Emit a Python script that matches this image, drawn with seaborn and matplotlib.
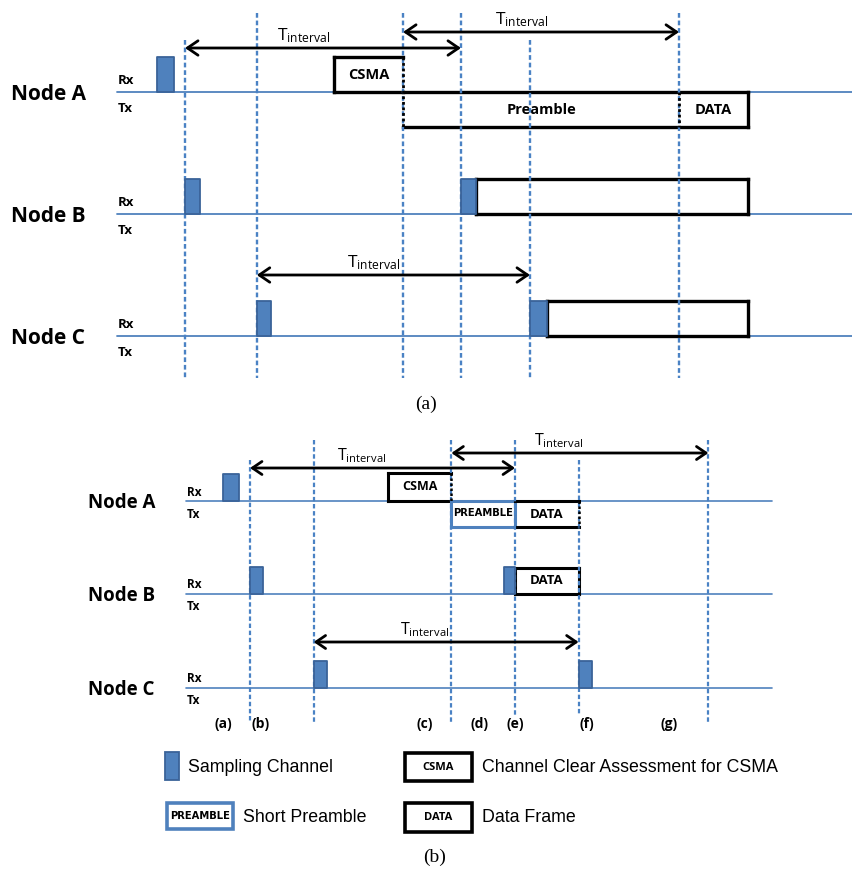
import numpy as np
import pandas as pd
import matplotlib
matplotlib.use("Agg")
import matplotlib.pyplot as plt
from matplotlib.patches import Rectangle
import seaborn as sns

sns.set_theme(style="white")
plt.rcParams["font.family"] = ["Open Sans", "DejaVu Sans"]
plt.rcParams["text.color"] = "black"
plt.rcParams["mathtext.fontset"] = "custom"
plt.rcParams["mathtext.rm"] = "Open Sans"
plt.rcParams["mathtext.it"] = "Open Sans"
plt.rcParams["mathtext.bf"] = "Open Sans:bold"

# ---------------------------------------------------------------- data
# times are in units where one wake-up interval is roughly 100
nodes = ["Node A", "Node B", "Node C"]

# (a) long preamble
a_marks = [0, 26, 79, 100, 125, 179]
a_samples = {"Node A": [(-10, -4)],
             "Node B": [(0, 5.5), (100, 105.5)],
             "Node C": [(26, 31), (125, 131)]}
a_csma = (54, 79)
a_preamble = (79, 179)
a_data = (179, 204)
a_rx_busy = {"Node B": (105.5, 204), "Node C": (131, 204)}
a_intervals = [(0, 100), (79, 179), (26, 125)]
a_line_span = (-24.6, 245)

# (b) short preamble
b_marks = [0, 24, 76, 100, 124, 173]
b_samples = {"Node A": [(-10, -4)],
             "Node B": [(0, 5), (96, 100)],
             "Node C": [(24, 29), (124, 129)]}
b_csma = (52, 76)
b_preamble = (76, 100)
b_data_a = (100, 124)
b_data_b = (100, 124)
b_intervals = [(0, 100), (76, 173), (24, 124)]
b_line_span = (-24, 197)
b_event_labels = ["(a)", "(b)", "(c)", "(d)", "(e)", "(f)", "(g)"]
b_event_pos = [-10, 4, 66, 86.5, 100, 127, 158]

legend_labels = ["Sampling Channel", "Channel Clear Assessment for CSMA",
                 "Short Preamble", "Data Frame"]

# ---------------------------------------------------------------- style
W, H = 853, 869
BLUE = "#4f81bd"
EDGE = "#3a6399"
DASH = "#4a82c4"

fig = plt.figure(figsize=(W / 100, H / 100), dpi=100)
fig.patch.set_facecolor("white")

A_TOP = 415
ax_txt = fig.add_axes([0, 0, 1, 1])
ax_a = fig.add_axes([0, (H - A_TOP) / H, 1, A_TOP / H])
ax_b = fig.add_axes([0, 0, 1, (H - A_TOP) / H])
for ax in (ax_txt, ax_a, ax_b):
    ax.set_axis_off()
    ax.patch.set_alpha(0)

# pixel <-> time mapping for each panel
a_origin, a_scale = 185, 2.76
b_origin, b_scale = 250, 2.65


def sides(ax, t0, t1, y0, y1, which, color="black", lw=2.4, ls="-", z=3):
    segs = {"l": ([t0, t0], [y0, y1]), "r": ([t1, t1], [y0, y1]),
            "t": ([t0, t1], [y0, y0]), "b": ([t0, t1], [y1, y1])}
    for k in which:
        xs, ys = segs[k]
        ax.plot(xs, ys, color=color, lw=lw, ls=ls,
                solid_capstyle="projecting", zorder=z)


def baselines(ax, rows, span, lw):
    recs = []
    for node, y in rows.items():
        recs.append(dict(node=node, t=span[0], y=y))
        recs.append(dict(node=node, t=span[1], y=y))
    sns.lineplot(data=pd.DataFrame(recs), x="t", y="y", units="node",
                 estimator=None, sort=False, color=BLUE, lw=lw,
                 legend=False, ax=ax, zorder=1)


def pulses(ax, samples, rows, height):
    for node, spans in samples.items():
        for t0, t1 in spans:
            ax.add_patch(Rectangle((t0, rows[node] - height), t1 - t0, height,
                                   fc=BLUE, ec=EDGE, lw=1.3, zorder=6,
                                   joinstyle="round"))


def interval(ax, t0, t1, y, dx, fs, ms):
    ax.annotate("", xy=(t1, y), xytext=(t0, y),
                arrowprops=dict(arrowstyle="<->,head_length=0.38,head_width=0.26",
                                lw=2.0, color="black", shrinkA=0, shrinkB=0,
                                mutation_scale=ms), zorder=7)
    ax.text((t0 + t1) / 2 + dx, y - 3, r"$\mathrm{T}_{\mathrm{interval}}$",
            ha="center", va="bottom", fontsize=fs, zorder=7)


# ---------------------------------------------------------------- panel (a)
a_rows = {"Node A": 92, "Node B": 214, "Node C": 336}
baselines(ax_a, a_rows, a_line_span, 1.3)

a_mark_top = [40, 13, 13, 13, 40, 13]
ax_a.vlines(a_marks, a_mark_top, 378, colors=DASH, lw=1.7,
            linestyles=[(0, (2.0, 1.2))], zorder=4)

yA = a_rows["Node A"]
sides(ax_a, a_csma[0], a_csma[1], yA - 35, yA, "ltb")
sides(ax_a, a_preamble[0], a_data[1], yA, yA + 35, "tb")
sides(ax_a, a_data[0], a_data[1], yA, yA + 35, "r")
ax_a.plot([a_csma[1]] * 2, [yA - 35, yA + 35], color="black", lw=2.0,
          ls=(0, (1, 1)), zorder=5)
ax_a.plot([a_data[0]] * 2, [yA, yA + 35], color="black", lw=2.0,
          ls=(0, (1, 1)), zorder=5)
ax_a.text(sum(a_csma) / 2, yA - 17, "CSMA", ha="center", va="center",
          fontsize=10.5, fontweight="bold")
ax_a.text(sum(a_preamble) / 2, yA + 18, "Preamble", ha="center", va="center",
          fontsize=10.5, fontweight="bold")
ax_a.text(sum(a_data) / 2, yA + 18, "DATA", ha="center", va="center",
          fontsize=10.5, fontweight="bold")

for node, (t0, t1) in a_rx_busy.items():
    y = a_rows[node]
    sides(ax_a, t0, t1, y - 35, y, "ltrb")

pulses(ax_a, a_samples, a_rows, 35)

a_arrow_y = [48, 32, 275]
for (t0, t1), y in zip(a_intervals, a_arrow_y):
    interval(ax_a, t0, t1, y, -7, 12.5, 20)

ax_a.set_xlim(-a_origin / a_scale, (W - a_origin) / a_scale)
ax_a.set_ylim(A_TOP, 0)

# ---------------------------------------------------------------- panel (b)
b_rows = {"Node A": 501, "Node B": 594, "Node C": 688}
baselines(ax_b, b_rows, b_line_span, 1.2)

b_mark_top = [460, 440, 440, 440, 460, 440]
b_mark_bot = [722, 722, 722, 716, 716, 722]
ax_b.vlines(b_marks, b_mark_top, b_mark_bot, colors=DASH, lw=1.6,
            linestyles=[(0, (2.0, 1.2))], zorder=4)

yA = b_rows["Node A"]
sides(ax_b, b_csma[0], b_csma[1], yA - 28, yA, "ltb", lw=2.2)
ax_b.plot([b_csma[1]] * 2, [yA - 28, yA], color="black", lw=1.8,
          ls=(0, (1, 1)), zorder=5)
sides(ax_b, b_preamble[0], b_preamble[1], yA, yA + 26, "ltrb",
      color=BLUE, lw=2.2)
sides(ax_b, b_data_a[0], b_data_a[1], yA, yA + 26, "tb", lw=2.2)
ax_b.plot([b_data_a[1]] * 2, [yA, yA + 26], color="black", lw=1.8,
          ls=(0, (1, 1)), zorder=5)
ax_b.text(sum(b_csma) / 2, yA - 14, "CSMA", ha="center", va="center",
          fontsize=9, fontweight="bold")
ax_b.text(sum(b_preamble) / 2, yA + 12, "PREAMBLE", ha="center", va="center",
          fontsize=7.2, fontweight="bold", family="Liberation Sans Narrow")
ax_b.text(sum(b_data_a) / 2, yA + 14, "DATA", ha="center", va="center",
          fontsize=9.5, fontweight="bold")

yB = b_rows["Node B"]
sides(ax_b, b_data_b[0], b_data_b[1], yB - 26, yB, "ltrb", lw=2.2)
ax_b.text(sum(b_data_b) / 2, yB - 14, "DATA", ha="center", va="center",
          fontsize=9.5, fontweight="bold")

pulses(ax_b, b_samples, b_rows, 27)

b_arrow_y = [468, 453, 642]
for (t0, t1), y in zip(b_intervals, b_arrow_y):
    interval(ax_b, t0, t1, y, -8, 11.5, 18)

for lab, t in zip(b_event_labels, b_event_pos):
    ax_b.text(t, 724, lab, ha="center", va="center", fontsize=10,
              fontweight="bold")

ax_b.set_xlim(-b_origin / b_scale, (W - b_origin) / b_scale)
ax_b.set_ylim(H, A_TOP)

# ---------------------------------------------------------------- labels
ax_txt.set_xlim(0, W)
ax_txt.set_ylim(H, 0)

for node, y in a_rows.items():
    ax_txt.text(11, y + 2, node, ha="left", va="center", fontsize=15,
                fontweight="bold")
    ax_txt.text(118, y - 11, "Rx", ha="left", va="center", fontsize=9.5,
                fontweight="bold")
    ax_txt.text(118, y + 16, "Tx", ha="left", va="center", fontsize=9.5,
                fontweight="bold")

for node, y in b_rows.items():
    ax_txt.text(88, y + 2, node, ha="left", va="center", fontsize=13.5,
                fontweight="bold")
    ax_txt.text(187, y - 9, "Rx", ha="left", va="center", fontsize=8.5,
                fontweight="bold")
    ax_txt.text(187, y + 13, "Tx", ha="left", va="center", fontsize=8.5,
                fontweight="bold")

ax_txt.text(426, 404, "(a)", ha="center", va="center", fontsize=14,
            family="Liberation Serif")
ax_txt.text(435, 857, "(b)", ha="center", va="center", fontsize=14,
            family="Liberation Serif")

# legend
ax_txt.add_patch(Rectangle((165, 752), 14, 28, fc=BLUE, ec=EDGE, lw=1.3))
ax_txt.add_patch(Rectangle((405, 753), 67, 28, fc="white", ec="black", lw=2.6))
ax_txt.text(438.5, 767, "CSMA", ha="center", va="center", fontsize=8,
            fontweight="bold")
ax_txt.add_patch(Rectangle((167, 803), 66, 26, fc="white", ec=BLUE, lw=2.6))
ax_txt.text(200, 816, "PREAMBLE", ha="center", va="center", fontsize=7.2,
            fontweight="bold", family="Liberation Sans Narrow")
ax_txt.add_patch(Rectangle((405, 803), 67, 29, fc="white", ec="black", lw=2.6))
ax_txt.text(438.5, 817, "DATA", ha="center", va="center", fontsize=8,
            fontweight="bold")

leg_pos = [(188, 768), (482, 768), (243, 817), (482, 817)]
for lab, (x, y) in zip(legend_labels, leg_pos):
    ax_txt.text(x, y, lab, ha="left", va="center", fontsize=12.8,
                family="Liberation Sans")

fig.savefig("out.png", dpi=100, facecolor="white")
